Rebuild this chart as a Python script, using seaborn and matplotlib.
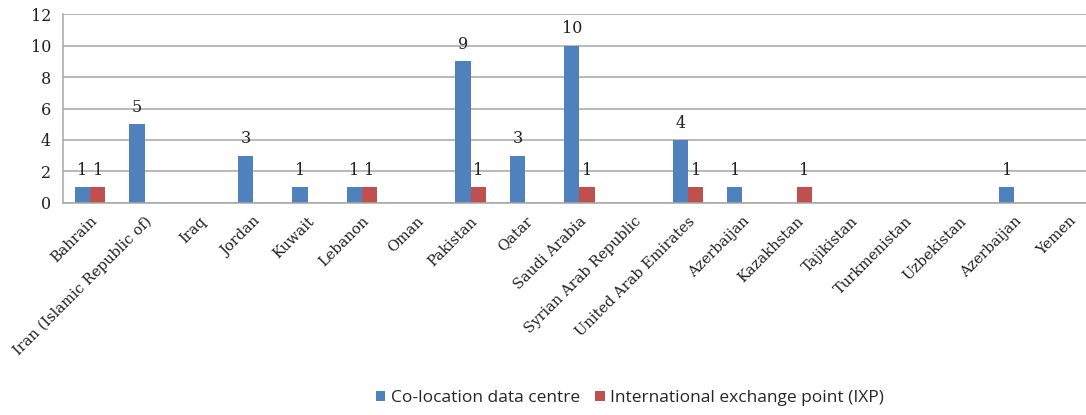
import pandas as pd
import matplotlib.pyplot as plt
import seaborn as sns

countries = ['Bahrain', 'Iran (Islamic Republic of)', 'Iraq', 'Jordan', 'Kuwait',
             'Lebanon', 'Oman', 'Pakistan', 'Qatar', 'Saudi Arabia',
             'Syrian Arab Republic', 'United Arab Emirates', 'Azerbaijan',
             'Kazakhstan', 'Tajikistan', 'Turkmenistan', 'Uzbekistan',
             'Azerbaijan', 'Yemen']
colocation = [1, 5, 0, 3, 1, 1, 0, 9, 3, 10, 0, 4, 1, 0, 0, 0, 0, 1, 0]
ixp = [1, 0, 0, 0, 0, 1, 0, 1, 0, 1, 0, 1, 0, 1, 0, 0, 0, 0, 0]
series_names = ['Co-location data centre', 'International exchange point (IXP)']

# long table; positions keep the duplicate "Azerbaijan" apart
n = len(countries)
df = pd.DataFrame({
    'pos': list(range(n)) * 2,
    'value': colocation + ixp,
    'series': [series_names[0]] * n + [series_names[1]] * n,
})

sns.set_style('white')
fig = plt.figure(figsize=(10.86, 4.15), dpi=100)
ax = fig.add_axes([0.058, 0.511, 0.951, 0.455])

sns.barplot(data=df, x='pos', y='value', hue='series', ax=ax,
            palette=['#4F81BD', '#C0504D'], width=0.56, saturation=1,
            errorbar=None, legend=True, linewidth=0)

for cont in ax.containers:
    labels = [f'{int(b.get_height())}' if b.get_height() > 0 else '' for b in cont]
    ax.bar_label(cont, labels=labels, padding=6, fontsize=11.5,
                 family='DejaVu Serif', color='#222222')

ax.set_xlim(-0.5, n - 0.5)
ax.set_ylim(0, 12)
ax.set_yticks(range(0, 13, 2))
ax.yaxis.grid(True, color='#a6a6a6', linewidth=1.1)
ax.set_axisbelow(True)

ax.set_xticks(range(n))
ax.set_xticklabels(countries, rotation=45, ha='right', rotation_mode='anchor',
                   family='DejaVu Serif', fontsize=10.5, color='#222222')
ax.set_xticks([i - 0.5 for i in range(n + 1)], minor=True)
ax.tick_params(axis='x', which='major', length=0, pad=8)
ax.tick_params(axis='x', which='minor', length=5, color='#a6a6a6', width=1)
ax.tick_params(axis='y', length=5, color='#a6a6a6', width=1, labelsize=11.5,
               labelcolor='#222222')
for lab in ax.get_yticklabels():
    lab.set_family('DejaVu Serif')

for side in ['top', 'right']:
    ax.spines[side].set_visible(False)
for side in ['left', 'bottom']:
    ax.spines[side].set_color('#a6a6a6')
    ax.spines[side].set_linewidth(1.1)

ax.set_xlabel('')
ax.set_ylabel('')

handles, labels = ax.get_legend_handles_labels()
ax.legend_.remove()
fig.legend(handles, labels, loc='center', bbox_to_anchor=(0.58, 0.04), ncol=2,
           frameon=False, prop={'family': 'Open Sans', 'size': 12.5},
           handlelength=0.55, handleheight=0.55, handletextpad=0.3, columnspacing=0.9)

fig.savefig('out.png', dpi=100)
